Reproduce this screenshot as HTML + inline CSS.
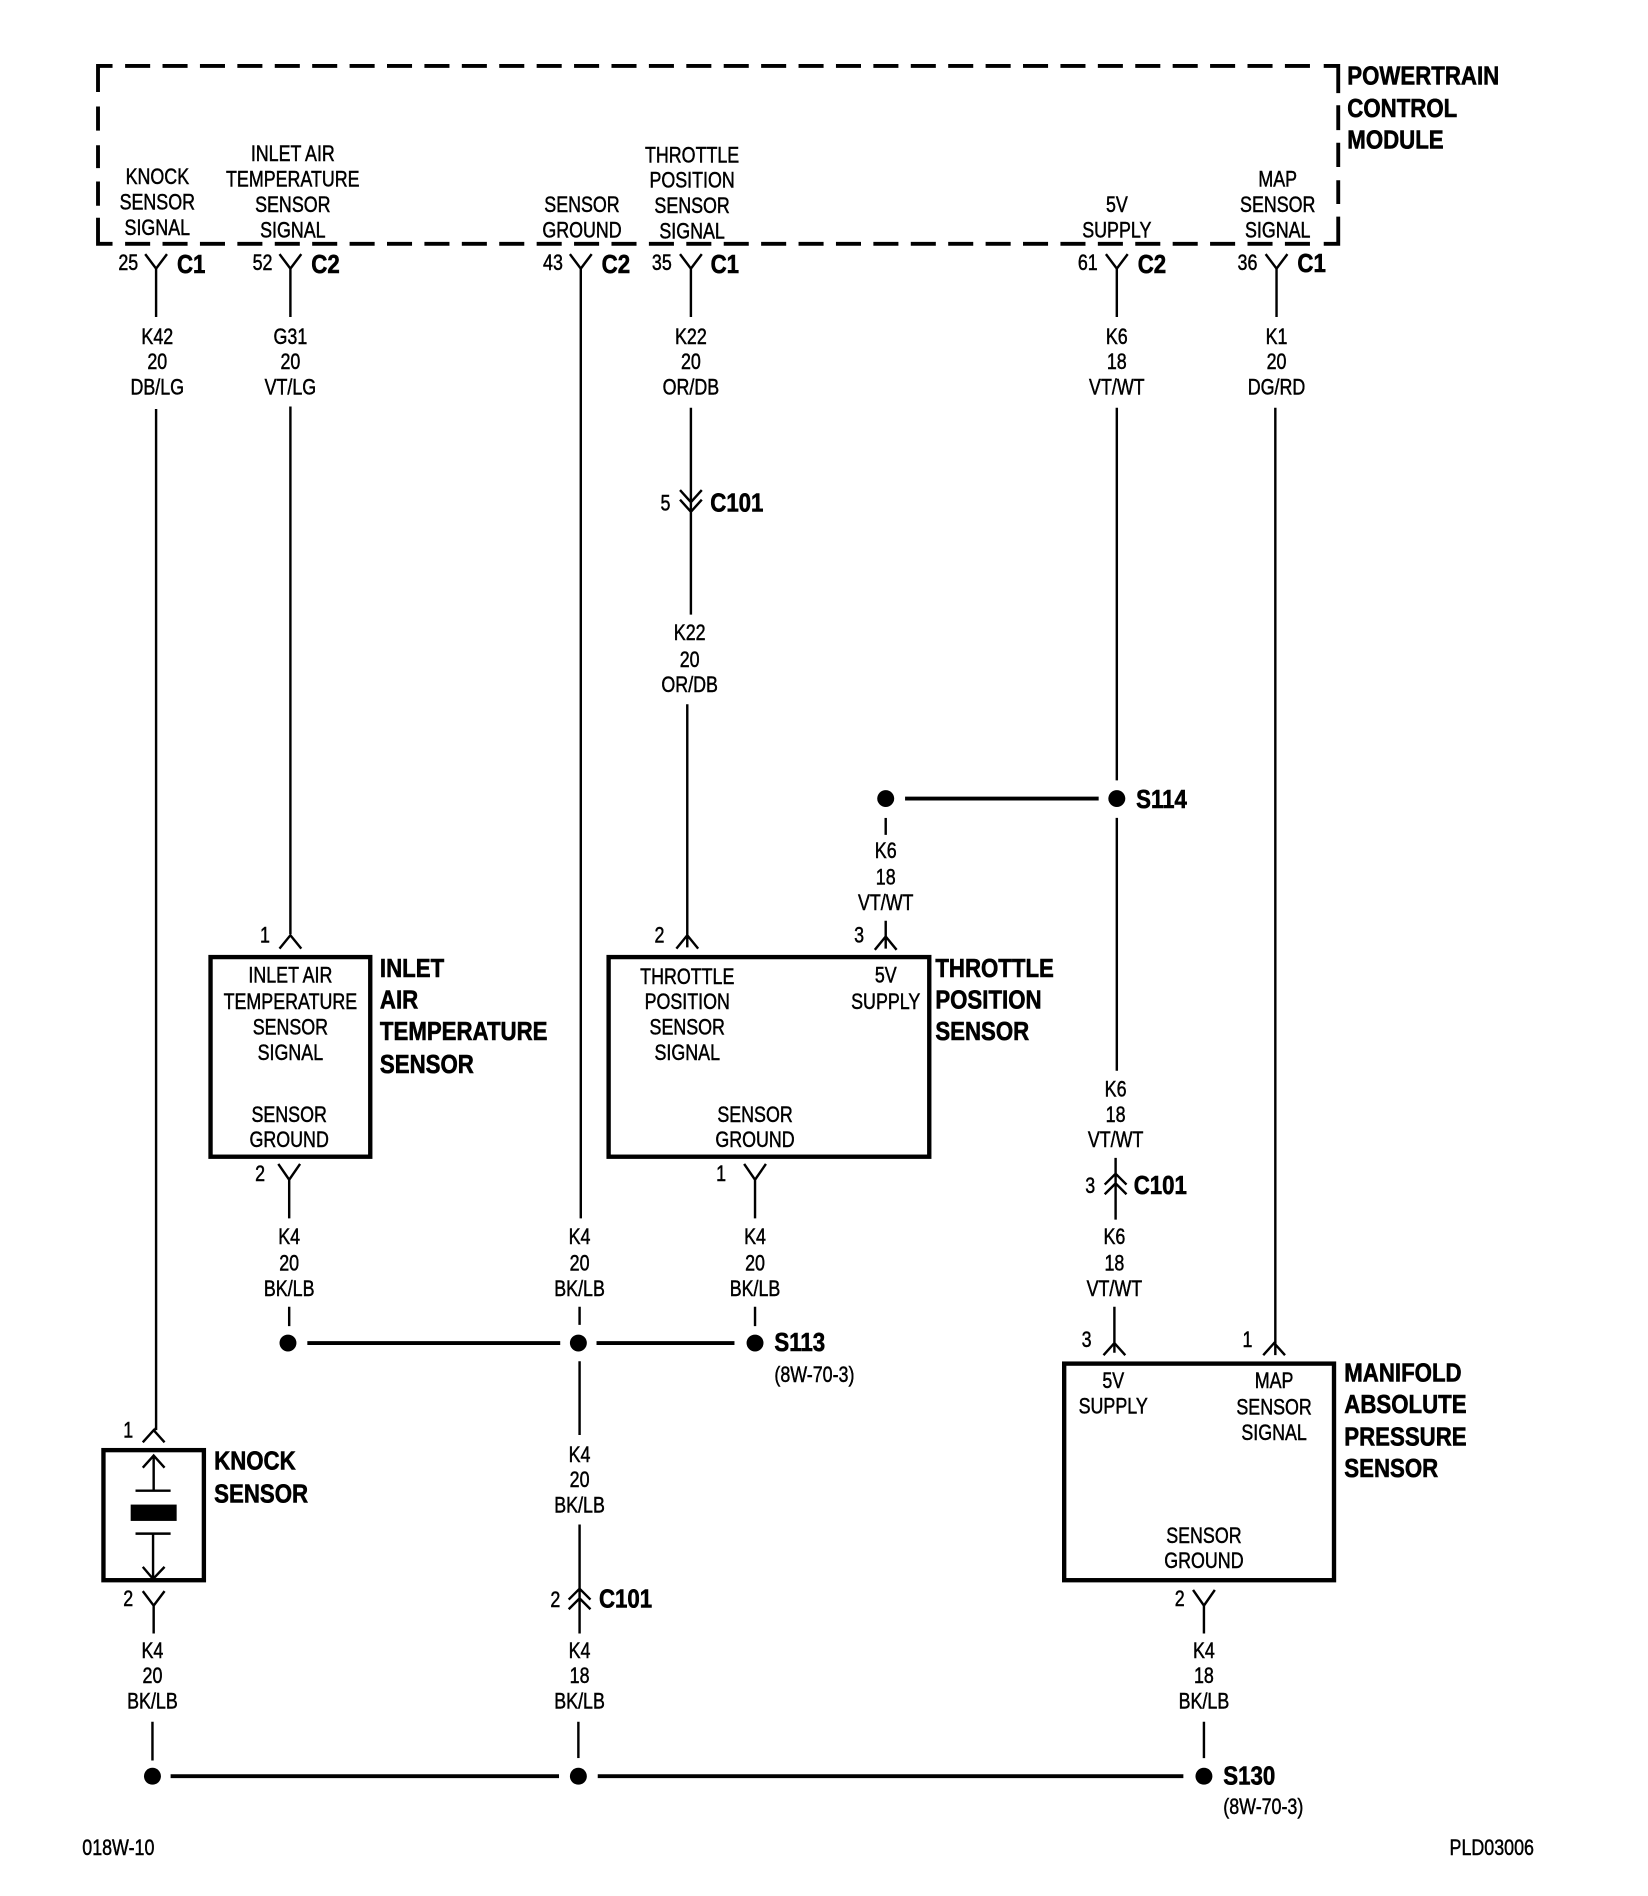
<!DOCTYPE html>
<html><head><meta charset="utf-8"><style>
html,body{margin:0;padding:0;background:#fff}
svg{display:block}
text{font-family:"Liberation Sans",sans-serif;font-size:18px;fill:#000;stroke:#000;stroke-width:.4px;text-anchor:middle;dominant-baseline:central;transform-box:fill-box;transform-origin:center;transform:translateY(.7px) scaleX(.82)}
.l{text-anchor:start;transform-origin:left center}
.b{font-weight:bold;font-size:21.5px;stroke-width:.5px;transform:scaleX(.855)}
.w{fill:none;stroke:#000;stroke-width:2}
.h{fill:none;stroke:#000;stroke-width:3.2}
.d{fill:none;stroke:#000;stroke-width:3.2}
</style></head><body>
<svg width="1648" height="1896" viewBox="0 0 1362 1567" xmlns="http://www.w3.org/2000/svg" preserveAspectRatio="none">
<rect width="1362" height="1567" fill="#fff"/>
<!-- PCM dashed box -->
<path class="d" d="M81,76V54.5H93M81,88V108M81,120V139M81,150V170M81,180V201.5H93"/>
<path class="d" d="M1094,54.5H1106V77M1106,87V107.5M1106,118V138M1106,149V168.6M1106,179V201.5H1094"/>
<path class="d" stroke-dasharray="20.7 10.22" d="M103.4,54.5H1083"/>
<path class="d" stroke-dasharray="20.7 10.22" d="M103.4,201.5H1083"/>
<text class="b l" x="1113.5" y="63">POWERTRAIN</text><text class="b l" x="1113.5" y="90">CONTROL</text><text class="b l" x="1113.5" y="116">MODULE</text>
<text x="130" y="146">KNOCK</text><text x="130" y="167">SENSOR</text><text x="130" y="188">SIGNAL</text>
<text x="242" y="127">INLET AIR</text><text x="242" y="148">TEMPERATURE</text><text x="242" y="169">SENSOR</text><text x="242" y="190">SIGNAL</text>
<text x="481" y="169">SENSOR</text><text x="481" y="190">GROUND</text>
<text x="572" y="128">THROTTLE</text><text x="572" y="149">POSITION</text><text x="572" y="170">SENSOR</text><text x="572" y="191">SIGNAL</text>
<text x="923" y="169">5V</text><text x="923" y="190">SUPPLY</text>
<text x="1056" y="148">MAP</text><text x="1056" y="169">SENSOR</text><text x="1056" y="190">SIGNAL</text>
<!-- Top connectors -->
<path class="w" d="M120,210L129,222L138,210M129,222V262M129,338V1182"/>
<path class="w" d="M231,210L240,222L249,210M240,222V262M240,336V772"/>
<path class="w" d="M471,210L480,222L489,210M480,222V1007"/>
<path class="w" d="M562,210L571,222L580,210M571,222V262M571,337V405"/>
<path class="w" d="M914,210L923,222L932,210M923,222V262M923,337V645M923,676V885"/>
<path class="w" d="M1046,210L1055,222L1064,210M1055,222V262M1054,337V1120"/>
<text x="106" y="217">25</text><text class="b" x="158" y="219">C1</text>
<text x="217" y="217">52</text><text class="b" x="269" y="219">C2</text>
<text x="457" y="217">43</text><text class="b" x="509" y="219">C2</text>
<text x="547" y="217">35</text><text class="b" x="599" y="219">C1</text>
<text x="899" y="217">61</text><text class="b" x="952" y="219">C2</text>
<text x="1031" y="217">36</text><text class="b" x="1084" y="218">C1</text>
<text x="130" y="278">K42</text><text x="130" y="299">20</text><text x="130" y="320">DB/LG</text>
<text x="240" y="278">G31</text><text x="240" y="299">20</text><text x="240" y="320">VT/LG</text>
<text x="571" y="278">K22</text><text x="571" y="299">20</text><text x="571" y="320">OR/DB</text>
<text x="923" y="278">K6</text><text x="923" y="299">18</text><text x="923" y="320">VT/WT</text>
<text x="1055" y="278">K1</text><text x="1055" y="299">20</text><text x="1055" y="320">DG/RD</text>
<!-- C101 throttle -->
<path class="w" d="M562,405L571,415L580,405M562,413L571,423L580,413M571,405V423M571,423V508"/>
<text x="550" y="416">5</text><text class="b l" x="587" y="416">C101</text>
<text x="570" y="523">K22</text><text x="570" y="545">20</text><text x="570" y="566">OR/DB</text>
<path class="w" d="M568,582V783M559,784L568,773L577,784"/>
<text x="545" y="773">2</text>
<!-- S114 branch -->
<circle cx="732" cy="660" r="7"/><circle cx="923" cy="660" r="7"/>
<path class="h" d="M748,660H908"/>
<text class="b l" x="939" y="661">S114</text>
<path class="w" d="M732,676V690"/>
<text x="732" y="703">K6</text><text x="732" y="725">18</text><text x="732" y="746">VT/WT</text>
<path class="w" d="M732,761V784M723,785L732,774L741,785"/>
<text x="710" y="773">3</text>
<!-- Inlet air box -->
<path class="w" d="M231,784L240,773L249,784"/>
<text x="219" y="773">1</text>
<rect x="174" y="791" width="132" height="165" fill="none" stroke="#000" stroke-width="3.6"/>
<text x="240" y="806">INLET AIR</text><text x="240" y="828">TEMPERATURE</text><text x="240" y="849">SENSOR</text><text x="240" y="870">SIGNAL</text>
<text x="239" y="921">SENSOR</text><text x="239" y="942">GROUND</text>
<text class="b l" x="314" y="801">INLET</text><text class="b l" x="314" y="827">AIR</text><text class="b l" x="314" y="853">TEMPERATURE</text><text class="b l" x="314" y="880">SENSOR</text>
<path class="w" d="M230,962L239,975L248,962M239,975V1007M239,1080V1096"/>
<text x="215" y="970">2</text>
<text x="239" y="1022">K4</text><text x="239" y="1044">20</text><text x="239" y="1065">BK/LB</text>
<!-- Throttle box -->
<rect x="503" y="791" width="265" height="165" fill="none" stroke="#000" stroke-width="3.6"/>
<text x="568" y="807">THROTTLE</text><text x="568" y="828">POSITION</text><text x="568" y="849">SENSOR</text><text x="568" y="870">SIGNAL</text>
<text x="732" y="806">5V</text><text x="732" y="828">SUPPLY</text>
<text x="624" y="921">SENSOR</text><text x="624" y="942">GROUND</text>
<text class="b l" x="773" y="801">THROTTLE</text><text class="b l" x="773" y="827">POSITION</text><text class="b l" x="773" y="853">SENSOR</text>
<path class="w" d="M615,962L624,975L633,962M624,975V1007M624,1080V1096"/>
<text x="596" y="970">1</text>
<text x="624" y="1022">K4</text><text x="624" y="1044">20</text><text x="624" y="1065">BK/LB</text>
<!-- Ground column -->
<text x="479" y="1022">K4</text><text x="479" y="1044">20</text><text x="479" y="1065">BK/LB</text>
<path class="w" d="M479,1080V1095M479,1125V1186M479,1260V1350M470,1322L479,1313L488,1322M470,1330L479,1321L488,1330"/>
<circle cx="238" cy="1110" r="7"/><circle cx="478" cy="1110" r="7"/><circle cx="624" cy="1110" r="7"/>
<path class="h" d="M254,1110H463M493,1110H607"/>
<text class="b l" x="640" y="1110">S113</text><text class="l" x="640" y="1136">(8W-70-3)</text>
<text x="479" y="1202">K4</text><text x="479" y="1223">20</text><text x="479" y="1244">BK/LB</text>
<text x="459" y="1322">2</text><text class="b l" x="495" y="1322">C101</text>
<text x="479" y="1364">K4</text><text x="479" y="1385">18</text><text x="479" y="1406">BK/LB</text>
<path class="w" d="M478,1423V1453"/>
<!-- Knock sensor -->
<path class="w" d="M118,1192L127,1182L136,1192"/>
<path class="w" d="M129,1180L127,1183"/>
<text x="106" y="1182">1</text>
<rect x="85.5" y="1198.5" width="83" height="107.5" fill="none" stroke="#000" stroke-width="3.6"/>
<path class="w" d="M118,1213L127,1203L136,1213M127,1203V1231M112,1232H141M112,1267.5H141M126.5,1268V1305M118,1295L126.5,1305L136,1295"/>
<rect x="108" y="1243.5" width="38" height="13.5"/>
<text class="b l" x="177" y="1208">KNOCK</text><text class="b l" x="177" y="1235">SENSOR</text>
<path class="w" d="M118,1315L127,1327L136,1315M127,1327V1350M126,1423V1455"/>
<text x="106" y="1321">2</text>
<text x="126" y="1364">K4</text><text x="126" y="1385">20</text><text x="126" y="1406">BK/LB</text>
<!-- 5V lower -->
<text x="922" y="900">K6</text><text x="922" y="921">18</text><text x="922" y="942">VT/WT</text>
<path class="w" d="M922,957V968M922,968V1008M913,979L922,970L931,979M913,987L922,978L931,987"/>
<text x="901" y="980">3</text><text class="b l" x="937" y="980">C101</text>
<text x="921" y="1022">K6</text><text x="921" y="1044">18</text><text x="921" y="1065">VT/WT</text>
<path class="w" d="M921,1080V1118M912,1120L921,1110L930,1120"/>
<text x="898" y="1107">3</text>
<path class="w" d="M1044,1120L1053,1110L1062,1120"/>
<text x="1031" y="1107">1</text>
<!-- MAP sensor -->
<rect x="879.5" y="1127" width="223" height="179" fill="none" stroke="#000" stroke-width="3.6"/>
<text x="920" y="1141">5V</text><text x="920" y="1162">SUPPLY</text>
<text x="1053" y="1141">MAP</text><text x="1053" y="1163">SENSOR</text><text x="1053" y="1184">SIGNAL</text>
<text x="995" y="1269">SENSOR</text><text x="995" y="1290">GROUND</text>
<text class="b l" x="1111" y="1135">MANIFOLD</text><text class="b l" x="1111" y="1161">ABSOLUTE</text><text class="b l" x="1111" y="1188">PRESSURE</text><text class="b l" x="1111" y="1214">SENSOR</text>
<path class="w" d="M986,1314L995,1327L1004,1314M995,1327V1350M995,1423V1453"/>
<text x="975" y="1321">2</text>
<text x="995" y="1364">K4</text><text x="995" y="1385">18</text><text x="995" y="1406">BK/LB</text>
<!-- Bottom bus -->
<circle cx="126" cy="1468" r="7"/><circle cx="478" cy="1468" r="7"/><circle cx="995" cy="1468" r="7"/>
<path class="h" d="M141,1468H462M494,1468H978"/>
<text class="b l" x="1011" y="1468">S130</text><text class="l" x="1011" y="1493">(8W-70-3)</text>
<text class="l" x="68" y="1527">018W-10</text><text class="l" x="1198" y="1527">PLD03006</text>
</svg>
</body></html>
